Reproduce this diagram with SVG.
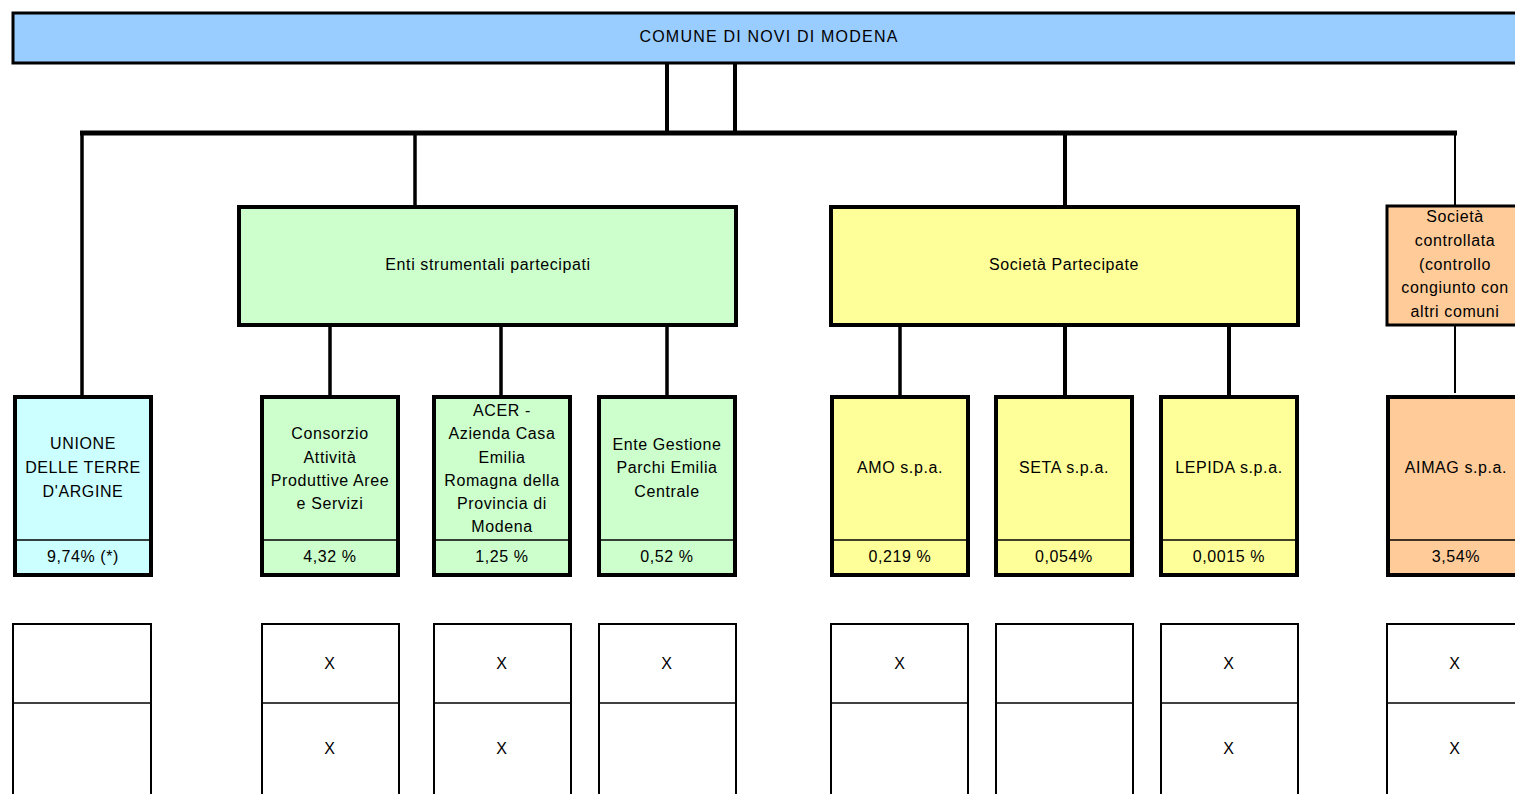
<svg xmlns="http://www.w3.org/2000/svg" width="1515" height="794" viewBox="0 0 1515 794">
<style>
text{font-family:"Liberation Sans",Arial,sans-serif;font-size:16px;fill:#000;text-anchor:middle;letter-spacing:0.6px}
.box{stroke:#000;stroke-width:4}
.div{stroke:#000;stroke-width:1.5}
.tbl{fill:#fff;stroke:#000;stroke-width:2}
.c{stroke:#000;fill:none}
.blue{fill:#99CCFF}.cyan{fill:#CCFFFF}.green{fill:#CCFFCC}.yellow{fill:#FFFF99}.orange{fill:#FFCC99}
</style>
<g id="connectors">
<line class="c" x1="667" y1="63" x2="667" y2="133" stroke-width="4"/>
<line class="c" x1="735" y1="63" x2="735" y2="133" stroke-width="4"/>
<line class="c" x1="80" y1="133" x2="1457" y2="133" stroke-width="5"/>
<line class="c" x1="82" y1="133" x2="82" y2="397" stroke-width="3.5"/>
<line class="c" x1="415" y1="133" x2="415" y2="207" stroke-width="3.5"/>
<line class="c" x1="1065" y1="133" x2="1065" y2="207" stroke-width="4"/>
<line class="c" x1="1455" y1="133" x2="1455" y2="207" stroke-width="2"/>
<line class="c" x1="330" y1="325" x2="330" y2="397" stroke-width="3.5"/>
<line class="c" x1="501" y1="325" x2="501" y2="397" stroke-width="3.5"/>
<line class="c" x1="667" y1="325" x2="667" y2="397" stroke-width="3.5"/>
<line class="c" x1="900" y1="325" x2="900" y2="397" stroke-width="3.5"/>
<line class="c" x1="1065" y1="325" x2="1065" y2="397" stroke-width="4"/>
<line class="c" x1="1229" y1="325" x2="1229" y2="397" stroke-width="4"/>
<line class="c" x1="1455" y1="325" x2="1455" y2="393" stroke-width="2"/>
</g>
<g id="comune">
<rect class="blue" x="13" y="13" width="1510" height="50" stroke="#000" stroke-width="3"/>
<text x="769" y="42" style="letter-spacing:1.2px">COMUNE DI NOVI DI MODENA</text>
</g>
<g id="enti">
<rect class="box green" x="239" y="207" width="497" height="118"/>
<text x="488" y="270">Enti strumentali partecipati</text>
</g>
<g id="societa-partecipate">
<rect class="box yellow" x="831" y="207" width="467" height="118"/>
<text x="1064" y="270">Società Partecipate</text>
</g>
<g id="societa-controllata">
<rect class="orange" x="1387" y="206" width="140" height="119" stroke="#000" stroke-width="3"/>
<text x="1455" y="222">Società</text>
<text x="1455" y="246">controllata</text>
<text x="1455" y="270">(controllo</text>
<text x="1455" y="293">congiunto con</text>
<text x="1455" y="317">altri comuni</text>
</g>
<g id="unione">
<rect class="box cyan" x="15" y="397" width="136" height="178"/>
<line class="div" x1="15" y1="540" x2="151" y2="540"/>
<text x="83" y="449">UNIONE</text>
<text x="83" y="473">DELLE TERRE</text>
<text x="83" y="497">D'ARGINE</text>
<text x="83" y="562">9,74% (*)</text>
</g>
<g id="consorzio">
<rect class="box green" x="262" y="397" width="136" height="178"/>
<line class="div" x1="262" y1="540" x2="398" y2="540"/>
<text x="330" y="439">Consorzio</text>
<text x="330" y="463">Attività</text>
<text x="330" y="486">Produttive Aree</text>
<text x="330" y="509">e Servizi</text>
<text x="330" y="562">4,32 %</text>
</g>
<g id="acer">
<rect class="box green" x="434" y="397" width="136" height="178"/>
<line class="div" x1="434" y1="540" x2="570" y2="540"/>
<text x="502" y="416">ACER -</text>
<text x="502" y="439">Azienda Casa</text>
<text x="502" y="463">Emilia</text>
<text x="502" y="486">Romagna della</text>
<text x="502" y="509">Provincia di</text>
<text x="502" y="532">Modena</text>
<text x="502" y="562">1,25 %</text>
</g>
<g id="ente-parchi">
<rect class="box green" x="599" y="397" width="136" height="178"/>
<line class="div" x1="599" y1="540" x2="735" y2="540"/>
<text x="667" y="450">Ente Gestione</text>
<text x="667" y="473">Parchi Emilia</text>
<text x="667" y="497">Centrale</text>
<text x="667" y="562">0,52 %</text>
</g>
<g id="amo">
<rect class="box yellow" x="832" y="397" width="136" height="178"/>
<line class="div" x1="832" y1="540" x2="968" y2="540"/>
<text x="900" y="473">AMO s.p.a.</text>
<text x="900" y="562">0,219 %</text>
</g>
<g id="seta">
<rect class="box yellow" x="996" y="397" width="136" height="178"/>
<line class="div" x1="996" y1="540" x2="1132" y2="540"/>
<text x="1064" y="473">SETA s.p.a.</text>
<text x="1064" y="562">0,054%</text>
</g>
<g id="lepida">
<rect class="box yellow" x="1161" y="397" width="136" height="178"/>
<line class="div" x1="1161" y1="540" x2="1297" y2="540"/>
<text x="1229" y="473">LEPIDA s.p.a.</text>
<text x="1229" y="562">0,0015 %</text>
</g>
<g id="aimag">
<rect class="box orange" x="1388" y="397" width="140" height="178"/>
<line class="div" x1="1388" y1="540" x2="1528" y2="540"/>
<text x="1456" y="473">AIMAG s.p.a.</text>
<text x="1456" y="562">3,54%</text>
</g>
<g id="table">
<rect class="tbl" x="13" y="624" width="138" height="180"/>
<line class="div" x1="13" y1="703" x2="151" y2="703"/>
<rect class="tbl" x="262" y="624" width="137" height="180"/>
<line class="div" x1="262" y1="703" x2="399" y2="703"/>
<text x="330" y="669">X</text><text x="330" y="754">X</text>
<rect class="tbl" x="434" y="624" width="137" height="180"/>
<line class="div" x1="434" y1="703" x2="571" y2="703"/>
<text x="502" y="669">X</text><text x="502" y="754">X</text>
<rect class="tbl" x="599" y="624" width="137" height="180"/>
<line class="div" x1="599" y1="703" x2="736" y2="703"/>
<text x="667" y="669">X</text>
<rect class="tbl" x="831" y="624" width="137" height="180"/>
<line class="div" x1="831" y1="703" x2="968" y2="703"/>
<text x="900" y="669">X</text>
<rect class="tbl" x="996" y="624" width="137" height="180"/>
<line class="div" x1="996" y1="703" x2="1133" y2="703"/>
<rect class="tbl" x="1161" y="624" width="137" height="180"/>
<line class="div" x1="1161" y1="703" x2="1298" y2="703"/>
<text x="1229" y="669">X</text><text x="1229" y="754">X</text>
<rect class="tbl" x="1387" y="624" width="140" height="180"/>
<line class="div" x1="1387" y1="703" x2="1527" y2="703"/>
<text x="1455" y="669">X</text><text x="1455" y="754">X</text>
</g>
</svg>
